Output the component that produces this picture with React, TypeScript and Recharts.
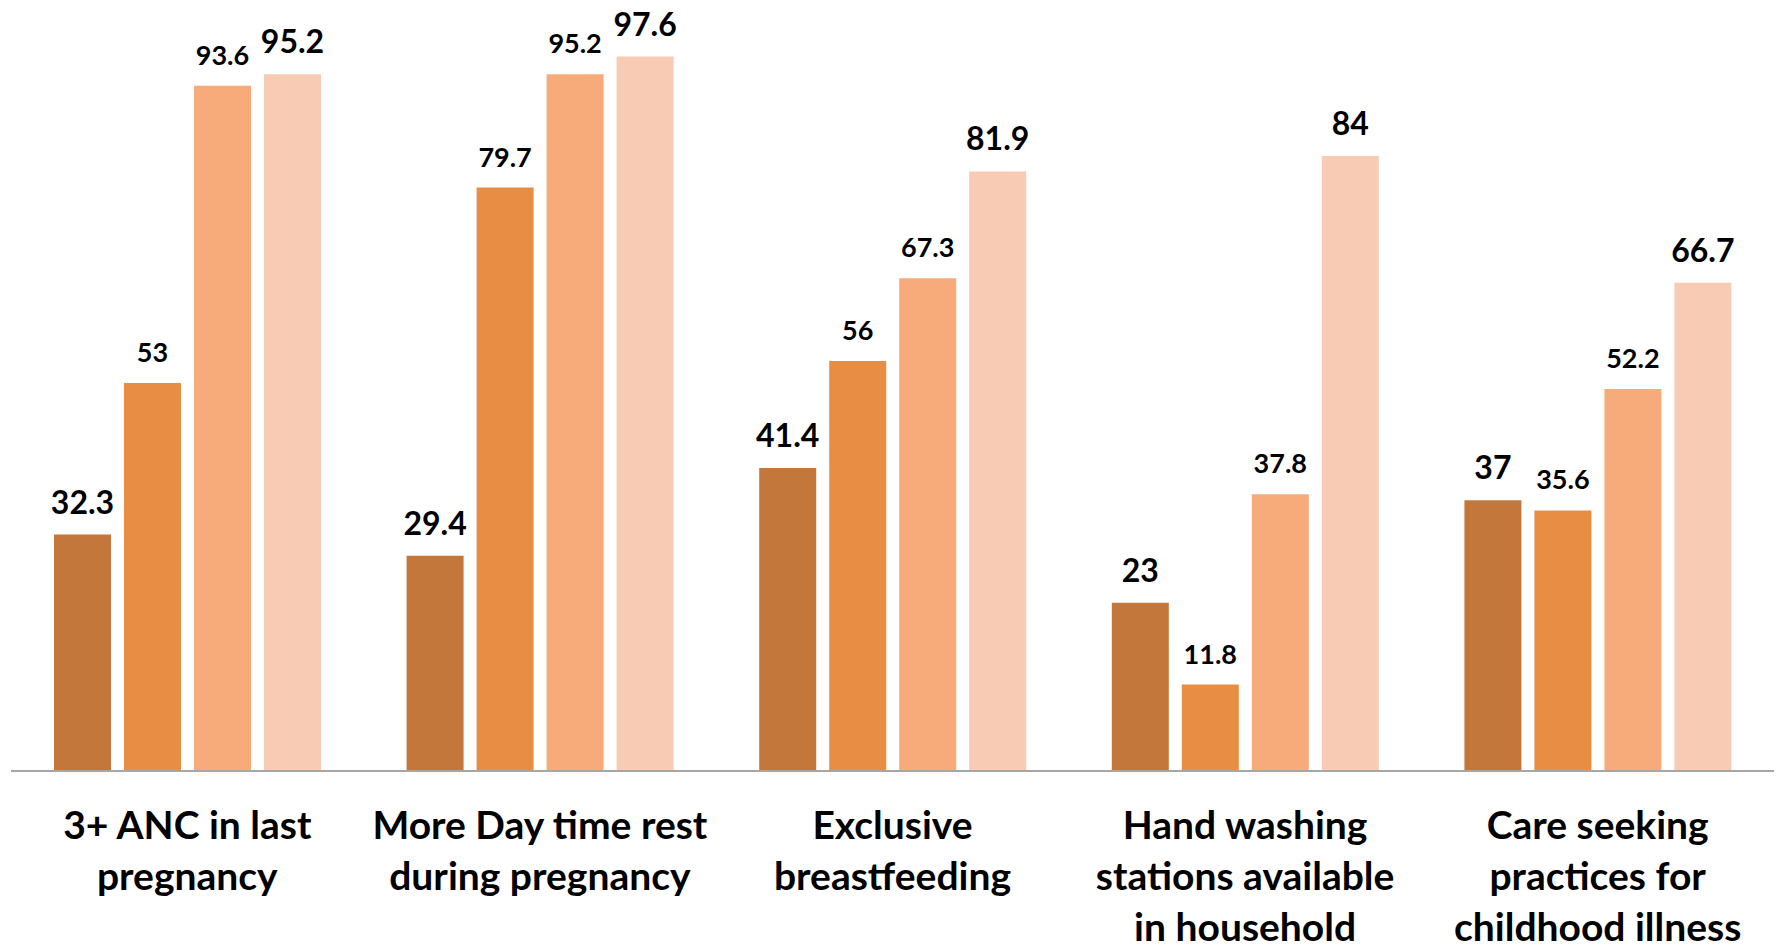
import React from "react"
import { Bar, BarChart, LabelList, XAxis, YAxis } from "recharts"

const categories = [
  "3+ ANC in last pregnancy",
  "More Day time rest during pregnancy",
  "Exclusive breastfeeding",
  "Hand washing stations available in household",
  "Care seeking practices for childhood illness",
]

// how each category label breaks into lines
const tickLines = [
  ["3+ ANC in last", "pregnancy"],
  ["More Day time rest", "during pregnancy"],
  ["Exclusive", "breastfeeding"],
  ["Hand washing", "stations available", "in household"],
  ["Care seeking", "practices for", "childhood illness"],
]

const series1 = [32.3, 29.4, 41.4, 23, 37]
const series2 = [53, 79.7, 56, 11.8, 35.6]
const series3 = [93.6, 95.2, 67.3, 37.8, 52.2]
const series4 = [95.2, 97.6, 81.9, 84, 66.7]

const colors = ["#C4773A", "#E88E44", "#F7AB7B", "#F8CBB4"]
const labelSizes = [32, 27, 27, 32]

const data = categories.map((name, i) => ({
  name,
  s1: series1[i],
  s2: series2[i],
  s3: series3[i],
  s4: series4[i],
}))

const FONT = "Lato, 'Open Sans', sans-serif"

function CategoryTick({ x, y, payload }: any) {
  const lines = tickLines[payload.index] || [payload.value]
  return (
    <text
      x={x}
      y={y}
      textAnchor="middle"
      fontFamily={FONT}
      fontWeight={700}
      fontSize={39}
      fill="#000"
    >
      {lines.map((l, i) => (
        <tspan key={i} x={x} y={y + 60 + i * 51}>
          {l}
        </tspan>
      ))}
    </text>
  )
}

function makeLabel(size: number) {
  return (props: any) => {
    const { x, y, width, value } = props
    return (
      <text
        x={x + width / 2}
        y={y - 21}
        textAnchor="middle"
        fontFamily={FONT}
        fontWeight={700}
        fontSize={size}
        fill="#000"
      >
        {value}
      </text>
    )
  }
}

export default function App() {
  const keys = ["s1", "s2", "s3", "s4"]
  return (
    <div style={{ position: "fixed", left: 0, top: 0, background: "#fff" }}>
      <BarChart
        width={1777}
        height={949}
        data={data}
        margin={{ top: 39, right: 3, left: 11, bottom: 0 }}
        barCategoryGap={43}
        barGap={13}
      >
        <XAxis
          dataKey="name"
          height={178}
          interval={0}
          tickLine={false}
          axisLine={{ stroke: "#A6A6A6", strokeWidth: 2 }}
          tick={<CategoryTick />}
        />
        <YAxis hide domain={[0, 100]} />
        {keys.map((k, i) => (
          <Bar key={k} dataKey={k} fill={colors[i]} isAnimationActive={false}>
            <LabelList dataKey={k} content={makeLabel(labelSizes[i])} />
          </Bar>
        ))}
      </BarChart>
    </div>
  )
}
